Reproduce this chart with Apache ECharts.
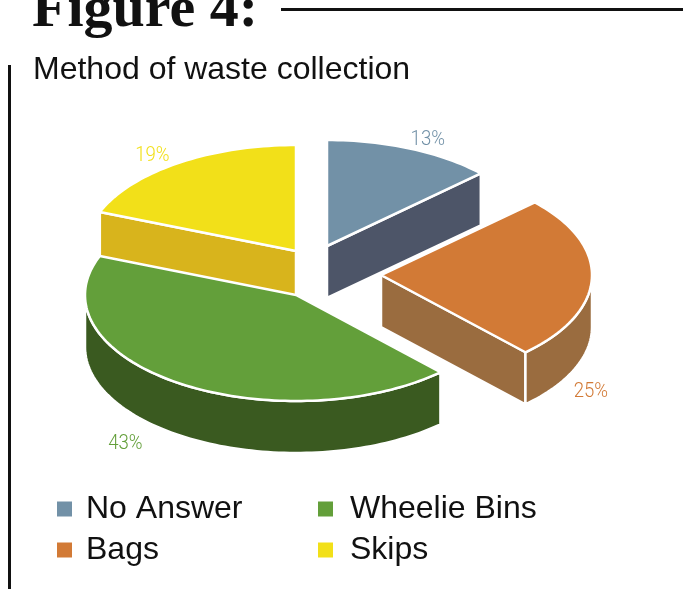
<!DOCTYPE html>
<html>
<head>
<meta charset="utf-8">
<style>html,body{margin:0;padding:0;background:#fff}#chart{width:683px;height:589px}</style>
<script src="https://cdn.jsdelivr.net/npm/echarts@6/dist/echarts.min.js"></script>
</head>
<body>
<div id="chart"></div>
<script>
// Share of households by waste collection method
const categories = ['No Answer', 'Bags', 'Wheelie Bins', 'Skips'];
const percentages = [13, 25, 43, 19];

// Colours per slice
const topColors = ['#7291a7', '#d27a36', '#639f3a', '#f2e019'];
const wallColors = ['#4d5568', '#9a6c3f', '#3a5a20', '#d8b41c'];

// Pie projection: a tilted disc drawn as an ellipse with a fixed extrusion
const center = [296, 295];
const radiusX = 211;
const radiusY = 106;
const depth = 52;
const explode = [[31, -49], [85, -20], [0, 0], [0, -44]];
const labelOffset = [[17, -9], [-1, 114], [-52, 61], [-25, -7]];
const drawOrder = [2, 3, 4, 1];

const total = percentages.reduce((a, b) => a + b, 0);
const rad = d => d * Math.PI / 180;

function rimPoint(apex, deg, drop) {
  return [
    apex[0] + radiusX * Math.sin(rad(deg)),
    apex[1] - radiusY * Math.cos(rad(deg)) + (drop || 0)
  ];
}

function arcPoints(apex, from, to, drop) {
  const pts = [];
  const steps = Math.max(2, Math.ceil(Math.abs(to - from) / 1.5));
  for (let i = 0; i <= steps; i++) {
    pts.push(rimPoint(apex, from + (to - from) * i / steps, drop));
  }
  return pts;
}

const wallLine = { stroke: '#fff', lineWidth: 2.5, lineJoin: 'round' };

function renderSlice(index, api) {
  // Sweep of this slice follows from the values before it
  let before = 0;
  for (let i = 0; i < index; i++) before += percentages[i];
  const value = api.value(0);
  const start = before / total * 360;
  const end = start + value / total * 360;
  const apex = [center[0] + explode[index][0], center[1] + explode[index][1]];
  const wall = wallColors[index];
  const children = [];

  const face = points => children.push({
    type: 'polygon',
    shape: { points },
    style: Object.assign({ fill: wall }, wallLine)
  });

  // Radial cut faces turned towards the viewer
  if (Math.sin(rad(start)) < -1e-6) {
    const p = rimPoint(apex, start);
    face([p, apex, [apex[0], apex[1] + depth], [p[0], p[1] + depth]]);
  }
  if (Math.sin(rad(end)) > 1e-6) {
    const p = rimPoint(apex, end);
    face([apex, p, [p[0], p[1] + depth], [apex[0], apex[1] + depth]]);
  }

  // Outer curved wall: only the lower half of the rim is visible
  const from = Math.max(start, 90);
  const to = Math.min(end, 270);
  if (to > from) {
    face(arcPoints(apex, from, to, 0).concat(arcPoints(apex, to, from, depth)));
  }

  // Top surface
  children.push({
    type: 'polygon',
    shape: { points: [apex].concat(arcPoints(apex, start, end, 0)) },
    style: { fill: topColors[index], stroke: '#fff', lineWidth: 2.5, lineJoin: 'round' }
  });

  // Percentage label beside the slice, squeezed to a condensed width
  const mid = rimPoint(apex, (start + end) / 2);
  children.push({
    type: 'text',
    x: mid[0] + labelOffset[index][0],
    y: mid[1] + labelOffset[index][1],
    scaleX: 0.93,
    style: {
      text: value + '%',
      fill: topColors[index],
      font: '300 20px Roboto, sans-serif',
      align: 'center',
      verticalAlign: 'middle'
    }
  });

  return { type: 'group', children };
}

const series = categories.map((name, i) => ({
  name,
  type: 'custom',
  coordinateSystem: 'none',
  z: drawOrder[i],
  silent: true,
  animation: false,
  itemStyle: { color: topColors[i] },
  data: [[percentages[i]]],
  renderItem: (params, api) => renderSlice(i, api)
}));

const legendBase = {
  orient: 'vertical',
  icon: 'rect',
  itemWidth: 15,
  itemHeight: 15,
  itemGap: 9,
  top: 493,
  padding: 0,
  selectedMode: false
};
const legendText = gap => ({
  fontFamily: '"Liberation Sans", sans-serif',
  fontSize: 32,
  color: '#111',
  padding: [0, 0, 0, gap]
});

const chart = echarts.init(document.getElementById('chart'), null, { renderer: 'canvas' });
chart.setOption({
  backgroundColor: '#fff',
  animation: false,
  legend: [
    Object.assign({}, legendBase, { left: 57, data: ['No Answer', 'Bags'], textStyle: legendText(9) }),
    Object.assign({}, legendBase, { left: 318, data: ['Wheelie Bins', 'Skips'], textStyle: legendText(12) })
  ],
  series,
  graphic: [
    { type: 'text', left: 32, top: -18, style: { text: 'Figure 4:', fill: '#111', font: 'bold 58px "Liberation Serif", serif' } },
    { type: 'rect', shape: { x: 281, y: 8, width: 402, height: 3 }, style: { fill: '#111' } },
    { type: 'rect', shape: { x: 8, y: 65, width: 3, height: 524 }, style: { fill: '#111' } },
    { type: 'text', left: 33, top: 54, style: { text: 'Method of waste collection', fill: '#111', font: '32px "Liberation Sans", sans-serif' } }
  ]
});
</script>
</body>
</html>
